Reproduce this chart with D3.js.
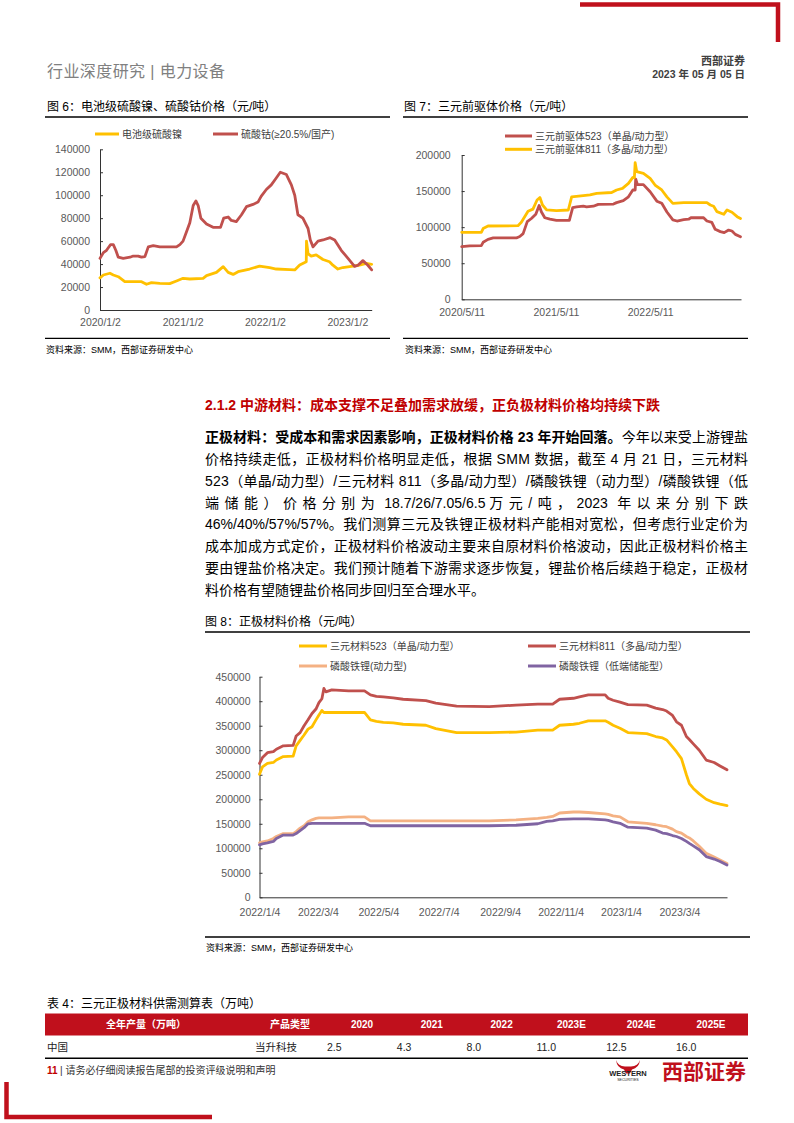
<!DOCTYPE html>
<html><head><meta charset="utf-8">
<script src="https://cdn.jsdelivr.net/npm/d3@7"></script>
<style>
body{margin:0;background:#fff}
svg{display:block}
text{font-family:"Liberation Sans","Noto Sans CJK SC",sans-serif}
</style>
</head><body><script>
// ---------- DATA ----------
// Fig 6: 电池级硫酸镍 / 硫酸钴 (元/吨)
const nickelDates = ["2020-01-02","2020-01-17","2020-02-15","2020-03-01","2020-03-23","2020-04-21","2020-05-28","2020-07-04","2020-07-26","2020-08-17","2020-09-23","2020-11-06","2020-12-06","2021-01-04","2021-02-03","2021-04-03","2021-04-18","2021-06-01","2021-07-01","2021-07-23","2021-08-14","2021-09-05","2021-10-26","2021-12-09","2022-01-23","2022-02-21","2022-04-21","2022-05-14","2022-06-05","2022-07-04","2022-07-05","2022-07-12","2022-07-26","2022-08-17","2022-09-16","2022-10-15","2022-10-30","2022-11-21","2022-12-13","2023-01-27","2023-02-25","2023-03-27","2023-04-20"];
const nickelValues = [28000,30500,32000,30500,29000,24700,24700,24700,22400,23800,23200,23000,25300,27600,27000,27600,30000,32800,37800,32800,31000,33400,35700,38300,36900,35700,35100,34900,39200,42000,60000,49000,47000,48000,44000,42000,39000,35700,37000,38300,39000,40700,39800];
const cobaltDates = ["2020-01-02","2020-01-17","2020-01-31","2020-02-07","2020-02-18","2020-03-01","2020-03-12","2020-03-23","2020-04-14","2020-05-14","2020-05-28","2020-06-19","2020-07-04","2020-07-19","2020-08-03","2020-08-25","2020-09-23","2020-12-06","2020-12-21","2021-01-04","2021-01-19","2021-02-03","2021-02-18","2021-03-02","2021-03-12","2021-03-24","2021-04-18","2021-05-17","2021-06-19","2021-07-03","2021-07-23","2021-08-06","2021-08-28","2021-09-20","2021-10-12","2021-11-10","2021-12-02","2021-12-16","2022-01-08","2022-01-30","2022-02-21","2022-03-11","2022-04-07","2022-04-29","2022-05-14","2022-05-28","2022-06-19","2022-07-12","2022-07-22","2022-08-03","2022-08-25","2022-09-16","2022-10-18","2022-11-07","2022-12-06","2023-01-05","2023-02-03","2023-02-18","2023-03-12","2023-04-03","2023-04-20"];
const cobaltValues = [45000,50000,52000,54000,57000,57000,52000,46000,45000,46000,47000,47000,46000,46500,55000,56000,55000,55000,57000,60000,68000,76000,91000,95000,91000,80000,75000,72000,72000,80000,81000,78000,77000,83000,90000,92000,94000,99000,105000,109000,115000,120000,118000,109000,100000,83000,80000,71000,61000,55000,60000,61000,63000,61000,52000,45000,38000,39000,43000,39000,35000];
const fig6XTicks = ["2020/1/2","2021/1/2","2022/1/2","2023/1/2"];
const fig6YTicks = [0,20000,40000,60000,80000,100000,120000,140000];

// Fig 7: 三元前驱体 (元/吨)
const p523Dates = ["2020-05-11","2020-06-11","2020-07-26","2020-08-02","2020-08-21","2020-09-10","2020-12-09","2020-12-22","2021-01-04","2021-01-20","2021-02-05","2021-02-22","2021-03-07","2021-03-16","2021-03-29","2021-04-18","2021-05-13","2021-07-02","2021-07-15","2021-07-30","2021-08-25","2021-09-07","2021-10-03","2021-10-22","2021-12-20","2022-01-01","2022-01-27","2022-02-16","2022-03-05","2022-03-14","2022-03-16","2022-03-23","2022-04-15","2022-05-11","2022-06-06","2022-06-25","2022-07-15","2022-08-07","2022-08-23","2022-09-18","2022-10-07","2022-10-16","2022-12-04","2022-12-17","2023-01-05","2023-01-18","2023-02-07","2023-02-22","2023-03-11","2023-03-24","2023-04-06","2023-04-26"];
const p523Values = [73000,74000,74400,79000,83000,85000,85000,87000,91000,107600,112000,118000,130000,121000,113000,111000,109500,109500,127000,128000,129000,128000,129000,131600,132000,134000,136700,142000,151500,151500,166700,159000,159000,149000,136000,133000,121000,110000,108500,110400,111000,113000,113000,108500,106700,97000,93800,92400,96000,94700,90000,86800];
const p811Dates = ["2020-05-11","2020-07-26","2020-08-02","2020-08-21","2020-12-15","2020-12-28","2021-01-23","2021-02-11","2021-02-27","2021-03-10","2021-03-20","2021-04-05","2021-05-13","2021-06-28","2021-07-11","2021-08-25","2021-09-20","2021-10-16","2021-12-13","2022-01-01","2022-01-24","2022-02-16","2022-03-05","2022-03-11","2022-03-14","2022-03-20","2022-04-15","2022-05-11","2022-05-30","2022-06-25","2022-07-15","2022-08-07","2022-09-18","2022-12-17","2022-12-30","2023-01-12","2023-01-25","2023-02-20","2023-03-05","2023-03-24","2023-04-13","2023-04-26"];
const p811Values = [92800,92800,98000,101600,102000,106700,122000,125000,137600,141000,130700,123800,122900,123800,142000,143700,144600,146900,148000,151500,153800,160700,169000,168600,189400,177000,174600,167700,158400,151500,142000,133000,134000,134000,130700,129000,121500,117800,123800,120600,114500,112000];
const fig7XTicks = ["2020/5/11","2021/5/11","2022/5/11"];
const fig7YTicks = [0,50000,100000,150000,200000];

// Fig 8: 正极材料价格 (元/吨)
const fig8Dates = ["2022-01-04","2022-01-07","2022-01-12","2022-01-18","2022-01-21","2022-01-28","2022-02-07","2022-02-10","2022-02-14","2022-02-18","2022-02-22","2022-02-26","2022-03-02","2022-03-05","2022-03-08","2022-03-10","2022-03-12","2022-03-18","2022-04-04","2022-04-20","2022-04-26","2022-05-02","2022-05-09","2022-05-19","2022-05-29","2022-06-21","2022-07-01","2022-07-22","2022-08-24","2022-09-20","2022-10-12","2022-10-21","2022-10-27","2022-11-03","2022-11-17","2022-11-23","2022-12-02","2022-12-19","2022-12-22","2022-12-27","2023-01-03","2023-01-11","2023-01-30","2023-02-08","2023-02-15","2023-02-19","2023-02-25","2023-03-01","2023-03-06","2023-03-11","2023-03-14","2023-03-18","2023-03-24","2023-03-31","2023-04-08","2023-04-14","2023-04-21"];
const ncm523Values = [251000,266000,273000,275000,280000,287000,288000,309000,320000,331000,343000,348000,362000,372000,381000,377000,377000,377000,377000,377000,362000,359000,357000,356000,353000,351000,344000,336000,336000,337000,341000,341000,341000,351000,353000,355000,360000,360000,357000,351000,345000,336000,334000,328000,325000,321000,307000,297000,283000,250000,232000,222000,211000,200000,193000,190000,187000];
const ncm811Values = [273000,285000,295000,297000,302000,309000,310000,329000,336000,350000,362000,375000,384000,397000,405000,426000,419000,423000,421000,421000,413000,410000,409000,407000,404000,401000,396000,390000,389000,392000,394000,394000,394000,404000,406000,409000,413000,413000,406000,402000,398000,393000,392000,386000,383000,380000,371000,358000,351000,328000,322000,313000,300000,280000,275000,268000,260000];
const lfpPowerValues = [111000,113000,115000,120000,124000,130000,130000,134000,141000,146000,154000,158000,161000,162000,162000,162000,162000,162000,164000,164000,156000,156000,156000,156000,156000,156000,156000,156000,156000,158000,161000,163000,165000,172000,174000,174000,173000,170000,169000,166000,164000,154000,151000,148000,145000,144000,139000,134000,131000,124000,121000,115000,104000,90000,82000,76000,69000];
const lfpStorageValues = [107000,109000,111000,114000,120000,127000,127000,130000,136000,142000,150000,151000,151000,151000,151000,151000,151000,151000,151000,151000,146000,146000,146000,146000,146000,146000,146000,146000,146000,147000,150000,155000,156000,159000,160000,160000,160000,158000,157000,154000,151000,143000,141000,137000,131000,130000,126000,124000,120000,114000,110000,105000,97000,83000,78000,73000,66000];
const fig8XTicks = ["2022/1/4","2022/3/4","2022/5/4","2022/7/4","2022/9/4","2022/11/4","2023/1/4","2023/3/4"];
const fig8YTicks = [0,50000,100000,150000,200000,250000,300000,350000,400000,450000];

// Table 4
const tableHeaders = ["2020","2021","2022","2023E","2024E","2025E"];
const tableValues = ["2.5","4.3","8.0","11.0","12.5","16.0"];

// ---------- DRAW ----------
const RED = "#C00000";
const FONT = '"Liberation Sans","Noto Sans CJK SC",sans-serif';
const parse = d3.timeParse("%Y-%m-%d");
const parseTick = d3.timeParse("%Y/%m/%d");
const svg = d3.select("body").append("svg").attr("width",794).attr("height",1123);
svg.append("rect").attr("width",794).attr("height",1123).attr("fill","#fff");

function txt(x,y,s,opt={}){
  const t = svg.append("text").attr("x",x).attr("y",y).text(s)
    .style("font-size",(opt.size||12)+"px").attr("fill",opt.fill||"#000")
    .attr("text-anchor",opt.anchor||"start");
  if(opt.bold) t.style("font-weight","bold");
  if(opt.len) t.attr("textLength",opt.len).attr("lengthAdjust","spacing");
  return t;
}
function hline(x1,x2,y,w,c){svg.append("line").attr("x1",x1).attr("x2",x2).attr("y1",y).attr("y2",y).attr("stroke",c||"#000").attr("stroke-width",w||1);}

// top-right red bracket
svg.append("path").attr("d","M580,4.5 H778 V42").attr("fill","none").attr("stroke","#C0101C").attr("stroke-width",4.5);
// bottom-left red bracket
svg.append("path").attr("d","M6.5,1082 V1117 H212").attr("fill","none").attr("stroke","#C0101C").attr("stroke-width",4.5);

// header
txt(47,77,"行业深度研究 | 电力设备",{size:16,fill:"#808080"}).attr("textLength",178).attr("lengthAdjust","spacing");
txt(745,65,"西部证券",{size:11,bold:true,anchor:"end",fill:"#404040"});
txt(745,78,"2023 年 05 月 05 日",{size:10.5,bold:true,anchor:"end",fill:"#404040"});

function chart(o){
  const g = svg.append("g");
  const x = d3.scaleTime().domain(o.xDomain.map(parse)).range([o.left,o.right]);
  const y = d3.scaleLinear().domain([0,o.yMax]).range([o.bottom,o.top]);
  const ya = g.append("g").attr("transform",`translate(${o.left},0)`)
    .call(d3.axisLeft(y).tickValues(o.yTicks).tickSize(-3).tickSizeOuter(0).tickPadding(o.yPad).tickFormat(d3.format("d")));
  const xa = g.append("g").attr("transform",`translate(0,${o.bottom})`)
    .call(d3.axisBottom(x).tickValues(o.xTicks.map(parseTick)).tickSize(0).tickSizeOuter(0).tickPadding(o.xPad).tickFormat((d,i)=>o.xTicks[i]));
  [ya,xa].forEach(a=>{
    a.attr("font-family",FONT).attr("font-size",10.5);
    a.select(".domain").attr("stroke","#333");
    a.selectAll(".tick line").attr("stroke","#333");
    a.selectAll(".tick text").attr("fill","#595959");
  });
  o.series.forEach(s=>{
    const n = Math.min(s.dates.length,s.values.length);
    const data = d3.range(n).map(i=>({d:parse(s.dates[i]),v:s.values[i]}));
    g.append("path").datum(data).attr("fill","none").attr("stroke",s.color)
      .attr("stroke-width",s.width||2.8).attr("stroke-linejoin","round").attr("stroke-linecap","round")
      .attr("d",d3.line().x(p=>x(p.d)).y(p=>y(p.v)));
  });
}
function legend(x,y,color,label,len){
  svg.append("line").attr("x1",x).attr("x2",x+len).attr("y1",y).attr("y2",y).attr("stroke",color).attr("stroke-width",3);
  txt(x+len+3,y+3.5,label,{size:10,fill:"#404040"});
}

// ---- Fig 6 ----
txt(47,110.5,"图 6：电池级硫酸镍、硫酸钴价格（元/吨）",{size:12});
hline(45,390,117,1.3);
legend(95,134,"#FFC000","电池级硫酸镍",24);
legend(213,134,"#C0504D","硫酸钴(≥20.5%/国产)",25);
chart({left:100,right:371.7,top:149.3,bottom:310,yMax:140000,yTicks:fig6YTicks,yPad:10,xPad:9,
  xDomain:["2020-01-02","2023-04-20"],xTicks:fig6XTicks,
  series:[{dates:nickelDates,values:nickelValues,color:"#FFC000"},{dates:cobaltDates,values:cobaltValues,color:"#C0504D"}]});
hline(45,390,338.3,1.3);
txt(46,352.5,"资料来源：SMM，西部证券研发中心",{size:9});

// ---- Fig 7 ----
txt(404,110.5,"图 7：三元前驱体价格（元/吨）",{size:12});
hline(403,748,117,1.3);
legend(505,136,"#C0504D","三元前驱体523（单晶/动力型）",27);
legend(505,149.3,"#FFC000","三元前驱体811（多晶/动力型）",27);
chart({left:461.7,right:741,top:155,bottom:299.3,yMax:200000,yTicks:fig7YTicks,yPad:11,xPad:9.5,
  xDomain:["2020-05-11","2023-04-28"],xTicks:fig7XTicks,
  series:[{dates:p523Dates,values:p523Values,color:"#C0504D"},{dates:p811Dates,values:p811Values,color:"#FFC000"}]});
hline(403,748,338.3,1.3);
txt(405,352.5,"资料来源：SMM，西部证券研发中心",{size:9});

// ---- Section text ----
txt(205,410,"2.1.2 中游材料：成本支撑不足叠加需求放缓，正负极材料价格均持续下跌",{size:14,bold:true,fill:RED});
const lh = 21.85, base0 = 442, W = 543;
// each line: list of [text, spread?, bold?]
const paraLines = [
  [["正极材料：受成本和需求因素影响，正极材料价格 23 年开始回落。",true,true],["今年以来受上游锂盐",true,false]],
  [["价格持续走低，正极材料价格明显走低，根据 SMM 数据，截至 4 月 21 日，三元材料",true,false]],
  [["523（单晶/动力型）/三元材料 811（多晶/动力型）/磷酸铁锂（动力型）/磷酸铁锂（低",true,false]],
  [["端储能）价格分别为",true,false],[" 18.7/26/7.05/6.5 ",false,false],["万元/吨，",true,false],["2023",false,false],[" 年以来分别下跌",true,false]],
  [["46%/40%/57%/57%",false,false],["。我们测算三元及铁锂正极材料产能相对宽松，但考虑行业定价为",true,false]],
  [["成本加成方式定价，正极材料价格波动主要来自原材料价格波动，因此正极材料价格主",true,false]],
  [["要由锂盐价格决定。我们预计随着下游需求逐步恢复，锂盐价格后续趋于稳定，正极材",true,false]],
  [["料价格有望随锂盐价格同步回归至合理水平。",true,false]]
];
paraLines.forEach((segs,i)=>{
  const t = svg.append("text").attr("x",205).attr("y",base0+i*lh).style("font-size","14px").attr("fill","#000");
  const spans = segs.map(s=>{
    const sp = t.append("tspan").text(s[0]);
    if(s[2]) sp.style("font-weight","bold");
    return sp;
  });
  if(i===paraLines.length-1) return;
  const natural = t.node().getComputedTextLength();
  let count = 0;
  segs.forEach(s=>{ if(s[1]) count += [...s[0]].length; });
  count -= 1;
  const ls = Math.max(0,(W-natural)/count);
  spans.forEach((sp,j)=>{ if(segs[j][1]) sp.style("letter-spacing",ls+"px"); });
});

// ---- Fig 8 ----
txt(205,626,"图 8：正极材料价格（元/吨）",{size:12});
hline(205,750,632,1.3);
legend(299,646,"#FFC000","三元材料523（单晶/动力型）",28);
legend(528,646,"#C0504D","三元材料811（多晶/动力型）",28);
legend(299,666,"#F4B183","磷酸铁锂(动力型)",28);
legend(528,666,"#8064A2","磷酸铁锂（低端储能型）",28);
chart({left:259.5,right:727,top:676.7,bottom:897.3,yMax:450000,yTicks:fig8YTicks,yPad:9,xPad:11,
  xDomain:["2022-01-04","2023-04-21"],xTicks:fig8XTicks,
  series:[{dates:fig8Dates,values:ncm523Values,color:"#FFC000"},
          {dates:fig8Dates,values:ncm811Values,color:"#C0504D"},
          {dates:fig8Dates,values:lfpPowerValues,color:"#F4B183"},
          {dates:fig8Dates,values:lfpStorageValues,color:"#8064A2"}]});
hline(205,750,937,1.3);
txt(206,950.5,"资料来源：SMM，西部证券研发中心",{size:9});

// ---- Table 4 ----
txt(47,1007.5,"表 4：三元正极材料供需测算表（万吨）",{size:12});
svg.append("rect").attr("x",45).attr("y",1013.5).attr("width",703).attr("height",22).attr("fill","#C0101C");
const col = d3.scalePoint().domain(tableHeaders).range([362,711]);
txt(146,1028,"全年产量（万吨）",{size:10,bold:true,fill:"#fff",anchor:"middle"});
txt(290,1028,"产品类型",{size:10,bold:true,fill:"#fff",anchor:"middle"});
tableHeaders.forEach(h=>txt(col(h),1028,h,{size:10,bold:true,fill:"#fff",anchor:"middle"}));
txt(47,1051,"中国",{size:10.5,fill:"#222"});
txt(255,1051,"当升科技",{size:10.5,fill:"#222"});
tableValues.forEach((v,i)=>txt(col(tableHeaders[i])-35,1051,v,{size:10.5,fill:"#222"}));
hline(45,748,1058.3,1.5);

// ---- Footer ----
txt(47,1074,"11",{size:10,bold:true,fill:RED});
txt(60,1074,"| 请务必仔细阅读报告尾部的投资评级说明和声明",{size:10,fill:"#333"});
// logo
svg.append("path").attr("d","M616,1060 q2,6 9,6.5 l6,0 q7,-0.5 9,-6.5 q-1,8 -8,9.5 l-2,4 l-4,0 l-2,-4 q-7,-1.5 -8,-9.5 z").attr("fill","#C0101C");
txt(628,1076,"WESTERN",{size:7.5,bold:true,fill:"#222",anchor:"middle"});
txt(628,1081,"SECURITIES",{size:3.6,fill:"#222",anchor:"middle"});
txt(746,1079,"西部证券",{size:21,bold:true,fill:"#C0101C",anchor:"end"});
</script></body></html>
